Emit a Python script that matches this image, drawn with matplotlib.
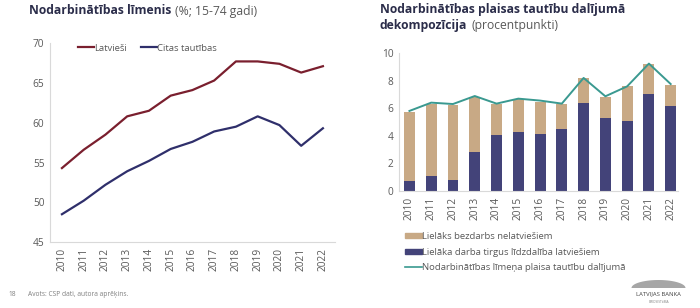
import numpy as np
import matplotlib.pyplot as plt
from matplotlib.patches import Patch
from matplotlib.lines import Line2D

plt.rcParams['font.family'] = ['Open Sans', 'DejaVu Sans']

years = ['2010', '2011', '2012', '2013', '2014', '2015', '2016',
         '2017', '2018', '2019', '2020', '2021', '2022']

# left chart: employment rate (%)
latviesi = [54.3, 56.6, 58.5, 60.8, 61.5, 63.4, 64.1, 65.3, 67.7, 67.7, 67.4, 66.3, 67.1]
citas = [48.5, 50.2, 52.2, 53.9, 55.2, 56.7, 57.6, 58.9, 59.5, 60.8, 59.7, 57.1, 59.3]

# right chart: decomposition (pp)
participation = [0.70, 1.11, 0.82, 2.85, 4.06, 4.28, 4.15, 4.47, 6.40, 5.27, 5.10, 7.03, 6.14]
bar_total = [5.70, 6.33, 6.26, 6.79, 6.33, 6.67, 6.43, 6.33, 8.16, 6.81, 7.63, 9.18, 7.71]
gap = [5.80, 6.40, 6.30, 6.88, 6.33, 6.69, 6.55, 6.33, 8.19, 6.86, 7.58, 9.23, 7.75]

unemployment = [t - p for t, p in zip(bar_total, participation)]

c_red = '#7a1f2e'
c_navy = '#2f2f6b'
c_bar = '#434379'
c_tan = '#c8a985'
c_teal = '#3a9990'
c_title = '#2b2d4a'
c_tick = '#595959'
c_spine = '#d9d9d9'

fig = plt.figure(figsize=(7, 3.08), dpi=100)
x = np.arange(len(years))


def style_axes(ax):
    for s in ['top', 'right']:
        ax.spines[s].set_visible(False)
    for s in ['left', 'bottom']:
        ax.spines[s].set_color(c_spine)
        ax.spines[s].set_linewidth(0.8)
    ax.tick_params(length=0, colors=c_tick, labelsize=7.3, pad=4)
    ax.set_xticks(x)
    ax.set_xticklabels(years, rotation=90)


# ---- left
ax1 = fig.add_axes([0.0714, 0.214, 0.407, 0.646])
ax1.plot(x, latviesi, color=c_red, lw=1.6, label='Latvieši')
ax1.plot(x, citas, color=c_navy, lw=1.6, label='Citas tautības')
ax1.set_ylim(45, 70)
ax1.set_yticks([45, 50, 55, 60, 65, 70])
ax1.set_xlim(-0.55, 12.55)
style_axes(ax1)
ax1.legend(loc='upper left', bbox_to_anchor=(0.07, 1.04), ncol=2, frameon=False,
           fontsize=6.8, handlelength=1.6, handletextpad=0.1, columnspacing=1.5,
           labelcolor=c_tick)

# ---- right
ax2 = fig.add_axes([0.570, 0.380, 0.399, 0.448])
ax2.bar(x, participation, width=0.5, color=c_bar)
ax2.bar(x, unemployment, width=0.5, bottom=participation, color=c_tan)
ax2.plot(x, gap, color=c_teal, lw=1.4)
ax2.set_ylim(0, 10)
ax2.set_yticks([0, 2, 4, 6, 8, 10])
ax2.set_xlim(-0.48, 12.35)
style_axes(ax2)

handles = [Patch(color=c_tan), Patch(color=c_bar),
           Line2D([], [], color=c_teal, lw=1.2)]
labels = ['Lielāks bezdarbs nelatviešiem',
          'Lielāka darba tirgus līdzdalība latviešiem',
          'Nodarbinātības līmeņa plaisa tautību dalījumā']
fig.legend(handles, labels, loc='upper left', bbox_to_anchor=(405 / 700, 1 - 232 / 308),
           frameon=False, fontsize=6.8, handlelength=1.75, handleheight=0.5,
           handletextpad=0.1, labelspacing=0.7, borderaxespad=0, borderpad=0,
           labelcolor=c_tick)

# ---- titles
fig.canvas.draw()
r = fig.canvas.get_renderer()


def title_with_sub(xp, yp, bold, sub):
    t = fig.text(xp, yp, bold, fontsize=8.7, fontweight='bold', color=c_title,
                 va='center', ha='left')
    bb = t.get_window_extent(renderer=r)
    x2 = (bb.x1 + 4) / fig.bbox.width
    fig.text(x2, yp, sub, fontsize=8.7, color='#595959', va='center', ha='left')


title_with_sub(29 / 700, 1 - 11 / 308, 'Nodarbinātības līmenis', '(%; 15-74 gadi)')
fig.text(380 / 700, 1 - 10 / 308, 'Nodarbinātības plaisas tautību dalījumā',
         fontsize=8.7, fontweight='bold', color=c_title, va='center', ha='left')
title_with_sub(380 / 700, 1 - 25 / 308, 'dekompozīcija', '(procentpunkti)')

# ---- footer
fig.text(8 / 700, 1 - 294 / 308, '18', fontsize=4.8, color='#7f7f7f', va='center')
fig.text(28 / 700, 1 - 294 / 308, 'Avots: CSP dati, autora aprēķins.', fontsize=4.8,
         color='#7f7f7f', va='center')

# logo
lg = fig.add_axes([627 / 700, 0, 63 / 700, 30 / 308])
lg.set_xlim(0, 63)
lg.set_ylim(0, 30)
lg.axis('off')
th = np.linspace(0, np.pi, 60)
lg.fill(31.5 + 27 * np.cos(th), 20 + 8 * np.sin(th), color='#a6a6a6', lw=0)
lg.text(31.5, 14.5, 'LATVIJAS BANKA', fontsize=4.2, ha='center', va='center', color='#404040')
lg.text(31.5, 6, 'EIROSISTĒMA', fontsize=2.3, ha='center', va='center', color='#7f7f7f')

fig.savefig('out.png', dpi=100, facecolor='white')
